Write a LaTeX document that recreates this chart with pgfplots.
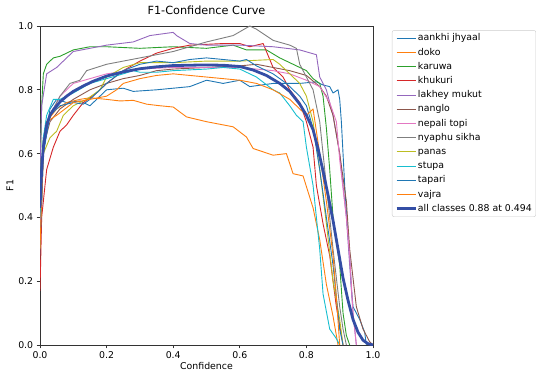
\documentclass[border=0pt]{standalone}
\usepackage{fontspec}
\setmainfont{DejaVu Sans}
\usepackage{pgfplots}
\pgfplotsset{compat=1.18}

% matplotlib tab10 palette
\definecolor{tabblue}{HTML}{1F77B4}
\definecolor{taborange}{HTML}{FF7F0E}
\definecolor{tabgreen}{HTML}{2CA02C}
\definecolor{tabred}{HTML}{D62728}
\definecolor{tabpurple}{HTML}{9467BD}
\definecolor{tabbrown}{HTML}{8C564B}
\definecolor{tabpink}{HTML}{E377C2}
\definecolor{tabgray}{HTML}{7F7F7F}
\definecolor{tabolive}{HTML}{BCBD22}
\definecolor{tabcyan}{HTML}{17BECF}
\definecolor{allblue}{RGB}{52,78,165}

\begin{document}
\begin{tikzpicture}
\begin{axis}[
  name=ax,
  scale only axis,
  width=333bp, height=319bp,
  xmin=0, xmax=1, ymin=0, ymax=1,
  xtick={0,0.2,...,1.0}, ytick={0,0.2,...,1.0},
  tick align=outside,
  major tick length=3.3bp,
  tick style={black!80, line width=0.75bp},
  axis line style={black!80, line width=0.75bp},
  xtick pos=bottom, ytick pos=left,
  font=\fontsize{9.4}{11}\selectfont,
  /pgf/number format/assume math mode=true,
  xticklabel style={/pgf/number format/.cd, fixed, fixed zerofill, precision=1},
  yticklabel style={/pgf/number format/.cd, fixed, fixed zerofill, precision=1},
  title={F1-Confidence Curve},
  title style={font=\fontsize{11.3}{13}\selectfont, anchor=south, at={(0.5,1)}, yshift=2bp},
  xlabel={Confidence},
  xlabel style={yshift=3bp},
  ylabel={F1},
  ylabel style={yshift=-2bp},
  no markers,
  every axis plot/.append style={line width=0.9bp, line join=round},
  legend cell align=left,
  legend image code/.code={\draw[#1] (0bp,0bp) -- (19bp,0bp);},
  legend style={
    at={(1.057,0.987)}, anchor=north west,
    draw=black!20, rounded corners=2bp,
    font=\fontsize{9.4}{11}\selectfont,
    nodes={text height=7bp, text depth=2bp, inner sep=1bp},
    row sep=3.2bp, inner xsep=3bp, inner ysep=2.5bp,
  },
]

% aankhi jhyaal
\addplot[tabblue] coordinates {
 (0,0.28) (0.01,0.6) (0.03,0.74) (0.05,0.77) (0.08,0.76) (0.12,0.765) (0.15,0.75)
 (0.18,0.78) (0.2,0.8) (0.25,0.805) (0.28,0.795) (0.35,0.8) (0.45,0.81) (0.5,0.83)
 (0.55,0.82) (0.6,0.83) (0.63,0.81) (0.7,0.82) (0.78,0.82) (0.83,0.825) (0.85,0.815)
 (0.87,0.81) (0.88,0.79) (0.895,0.8) (0.9,0.77) (0.905,0.7) (0.91,0.6) (0.915,0.5)
 (0.92,0.42) (0.925,0.35) (0.93,0.28) (0.935,0.18) (0.94,0.12) (0.96,0.08) (0.975,0.04) (0.98,0)
};
\addlegendentry{aankhi jhyaal}

% doko
\addplot[taborange] coordinates {
 (0,0.3) (0.01,0.6) (0.02,0.7) (0.05,0.74) (0.08,0.76) (0.12,0.77) (0.15,0.775)
 (0.2,0.77) (0.24,0.765) (0.28,0.767) (0.32,0.755) (0.36,0.75) (0.4,0.746) (0.44,0.715)
 (0.5,0.7) (0.58,0.684) (0.62,0.652) (0.64,0.616) (0.7,0.595) (0.74,0.6) (0.76,0.537)
 (0.79,0.53) (0.82,0.43) (0.84,0.33) (0.86,0.19) (0.88,0.09) (0.895,0)
};
\addlegendentry{doko}

% karuwa
\addplot[tabgreen] coordinates {
 (0,0.5) (0.005,0.75) (0.01,0.85) (0.02,0.88) (0.04,0.9) (0.06,0.905) (0.1,0.925)
 (0.15,0.935) (0.2,0.935) (0.3,0.93) (0.4,0.935) (0.5,0.93) (0.58,0.94) (0.62,0.925)
 (0.68,0.925) (0.72,0.9) (0.76,0.88) (0.8,0.86) (0.82,0.835) (0.84,0.82) (0.85,0.78)
 (0.86,0.68) (0.87,0.55) (0.88,0.4) (0.9,0.25) (0.91,0.1) (0.92,0.03) (0.93,0)
};
\addlegendentry{karuwa}

% khukuri
\addplot[tabred] coordinates {
 (0,0.17) (0.005,0.4) (0.02,0.55) (0.04,0.62) (0.06,0.67) (0.08,0.69) (0.1,0.72)
 (0.13,0.76) (0.17,0.79) (0.2,0.82) (0.25,0.86) (0.3,0.89) (0.35,0.915) (0.4,0.93)
 (0.45,0.94) (0.55,0.945) (0.6,0.945) (0.63,0.935) (0.67,0.945) (0.68,0.92) (0.7,0.87)
 (0.73,0.84) (0.75,0.8) (0.78,0.76) (0.8,0.7) (0.82,0.62) (0.83,0.5) (0.85,0.38)
 (0.87,0.28) (0.89,0.12) (0.9,0.06) (0.91,0)
};
\addlegendentry{khukuri}

% lakhey mukut
\addplot[tabpurple] coordinates {
 (0,0.55) (0.005,0.75) (0.02,0.85) (0.05,0.87) (0.08,0.9) (0.1,0.92) (0.15,0.93)
 (0.2,0.94) (0.28,0.95) (0.33,0.97) (0.4,0.98) (0.41,0.97) (0.45,0.945) (0.5,0.94)
 (0.6,0.94) (0.7,0.935) (0.78,0.925) (0.83,0.91) (0.84,0.84) (0.86,0.8) (0.88,0.72)
 (0.9,0.6) (0.92,0.4) (0.93,0.25) (0.94,0.1) (0.95,0)
};
\addlegendentry{lakhey mukut}

% nanglo
\addplot[tabbrown] coordinates {
 (0,0.4) (0.01,0.62) (0.03,0.7) (0.06,0.74) (0.1,0.77) (0.15,0.8) (0.2,0.82)
 (0.25,0.835) (0.3,0.845) (0.35,0.86) (0.4,0.865) (0.5,0.87) (0.6,0.875) (0.65,0.88)
 (0.7,0.87) (0.75,0.86) (0.8,0.845) (0.84,0.81) (0.86,0.78) (0.88,0.72) (0.9,0.6)
 (0.92,0.45) (0.93,0.3) (0.95,0.12) (0.97,0.05) (0.99,0.01) (1.0,0)
};
\addlegendentry{nanglo}

% nepali topi
\addplot[tabpink] coordinates {
 (0,0.35) (0.01,0.65) (0.03,0.72) (0.06,0.78) (0.1,0.82) (0.15,0.835) (0.2,0.85)
 (0.3,0.865) (0.4,0.87) (0.5,0.87) (0.6,0.87) (0.7,0.86) (0.75,0.85) (0.8,0.83)
 (0.84,0.81) (0.87,0.76) (0.89,0.7) (0.9,0.58) (0.92,0.4) (0.93,0.28) (0.94,0.1) (0.95,0)
};
\addlegendentry{nepali topi}

% nyaphu sikha
\addplot[tabgray] coordinates {
 (0,0.45) (0.01,0.65) (0.03,0.72) (0.06,0.78) (0.09,0.82) (0.12,0.83) (0.14,0.86)
 (0.2,0.88) (0.3,0.9) (0.4,0.92) (0.5,0.95) (0.58,0.97) (0.63,1.0) (0.65,0.99)
 (0.7,0.955) (0.75,0.94) (0.77,0.93) (0.78,0.88) (0.8,0.84) (0.82,0.8) (0.84,0.7)
 (0.86,0.5) (0.88,0.3) (0.9,0.12) (0.91,0.05) (0.92,0)
};
\addlegendentry{nyaphu sikha}

% panas
\addplot[tabolive] coordinates {
 (0,0.45) (0.01,0.6) (0.03,0.65) (0.05,0.67) (0.07,0.72) (0.1,0.75) (0.14,0.77)
 (0.18,0.8) (0.2,0.84) (0.25,0.87) (0.3,0.885) (0.4,0.885) (0.5,0.89) (0.6,0.89)
 (0.7,0.895) (0.72,0.88) (0.76,0.84) (0.78,0.82) (0.8,0.78) (0.82,0.7) (0.84,0.55)
 (0.86,0.38) (0.88,0.2) (0.9,0.08) (0.91,0)
};
\addlegendentry{panas}

% stupa
\addplot[tabcyan] coordinates {
 (0,0.4) (0.01,0.65) (0.02,0.72) (0.04,0.77) (0.06,0.77) (0.1,0.79) (0.15,0.82)
 (0.2,0.835) (0.25,0.85) (0.28,0.86) (0.3,0.855) (0.35,0.855) (0.4,0.86) (0.5,0.865)
 (0.55,0.87) (0.6,0.865) (0.65,0.84) (0.7,0.8) (0.72,0.79) (0.75,0.75) (0.77,0.72)
 (0.79,0.7) (0.8,0.62) (0.82,0.5) (0.83,0.4) (0.84,0.3) (0.85,0.16) (0.87,0.05)
 (0.89,0.02) (0.9,0)
};
\addlegendentry{stupa}

% tapari
\addplot[tabblue] coordinates {
 (0,0.3) (0.01,0.6) (0.03,0.72) (0.06,0.75) (0.1,0.76) (0.13,0.755) (0.15,0.77)
 (0.2,0.82) (0.25,0.86) (0.3,0.88) (0.35,0.89) (0.4,0.885) (0.45,0.895) (0.5,0.9)
 (0.55,0.895) (0.6,0.89) (0.62,0.895) (0.65,0.875) (0.7,0.85) (0.74,0.82) (0.78,0.78)
 (0.8,0.75) (0.82,0.68) (0.84,0.55) (0.86,0.4) (0.88,0.25) (0.89,0.15) (0.9,0.05) (0.91,0)
};
\addlegendentry{tapari}

% vajra
\addplot[taborange] coordinates {
 (0,0.3) (0.01,0.62) (0.02,0.7) (0.05,0.72) (0.1,0.76) (0.15,0.77) (0.2,0.78)
 (0.23,0.8) (0.25,0.82) (0.3,0.835) (0.35,0.845) (0.4,0.85) (0.5,0.84) (0.6,0.83)
 (0.65,0.82) (0.7,0.8) (0.75,0.77) (0.78,0.74) (0.8,0.72) (0.82,0.74) (0.84,0.6)
 (0.86,0.45) (0.88,0.28) (0.89,0.15) (0.9,0)
};
\addlegendentry{vajra}

% mean over all classes
\addplot[allblue, line width=2.8bp] coordinates {
 (0,0.43) (0.005,0.55) (0.01,0.62) (0.02,0.69) (0.03,0.72) (0.04,0.737) (0.06,0.762)
 (0.08,0.78) (0.10,0.795) (0.13,0.812) (0.16,0.827) (0.2,0.843) (0.25,0.856) (0.3,0.866)
 (0.35,0.872) (0.4,0.876) (0.45,0.877) (0.494,0.878) (0.55,0.877) (0.6,0.873) (0.64,0.862)
 (0.68,0.845) (0.72,0.82) (0.75,0.795) (0.78,0.755) (0.8,0.72) (0.82,0.675) (0.835,0.615)
 (0.85,0.545) (0.865,0.47) (0.88,0.39) (0.895,0.3) (0.91,0.21) (0.925,0.14) (0.94,0.08)
 (0.955,0.04) (0.97,0.015) (0.985,0.004) (1.0,0)
};
\addlegendentry{all classes 0.88 at 0.494}

\end{axis}
\pgfresetboundingbox
\path[use as bounding box] ([shift={(-40bp,-26bp)}]ax.south west) rectangle ([shift={(164bp,26bp)}]ax.north east);
\end{tikzpicture}
\end{document}
